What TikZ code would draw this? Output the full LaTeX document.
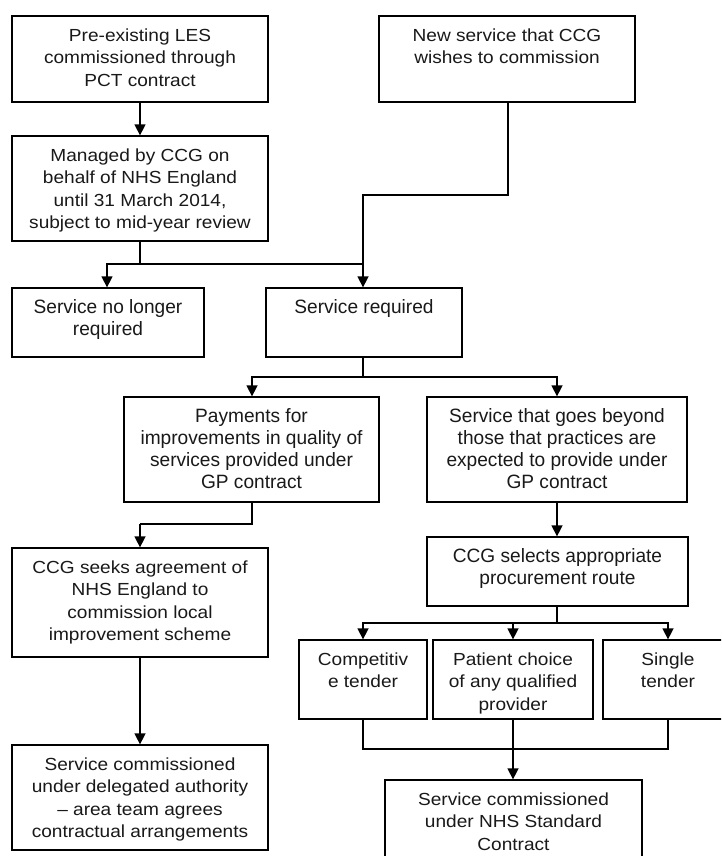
\documentclass[tikz,border=0pt]{standalone}
\usepackage{fontspec}
\setmainfont{Liberation Sans}
\newfontfamily\fa[FakeStretch=1.09]{Liberation Sans}
\newfontfamily\fb[FakeStretch=0.99]{Liberation Sans}
\usetikzlibrary{arrows.meta,fit}
\begin{document}
\begin{tikzpicture}[x=1pt,y=-1pt,
  box/.style={draw=black, line width=1.3pt, inner sep=0pt},
  ta/.style={anchor=north, align=center, inner sep=0pt, yshift=-13pt, font=\fa\fontsize{17.5}{22.4}\selectfont, text=black!90},
  tb/.style={anchor=north, align=center, inner sep=0pt, yshift=-12pt, font=\fb\fontsize{19.3}{22}\selectfont, text=black!90},
  conn/.style={draw=black, line width=1.5pt},
  arr/.style={conn, -{Triangle[width=11pt,length=11pt]}}]
\clip (0,0) rectangle (721,856);
\fill[white] (0,0) rectangle (721,856);
% boxes
\node[box, fit={(12,16) (268,102)}] (A) {};
\node[box, fit={(379,16) (635,102)}] (B) {};
\node[box, fit={(12,136) (268,241)}] (C) {};
\node[box, fit={(12,288) (204,357)}] (D) {};
\node[box, fit={(266,288) (462,357)}] (E) {};
\node[box, fit={(124,397) (379,502)}] (F) {};
\node[box, fit={(427,397) (687,502)}] (G) {};
\node[box, fit={(12,548) (268,657)}] (H) {};
\node[box, fit={(12,745) (268,850)}] (I) {};
\node[box, fit={(427,537) (688,606)}] (J) {};
\node[box, fit={(299,640) (427,719)}] (K) {};
\node[box, fit={(433,640) (593,719)}] (L) {};
\node[box, fit={(603,640) (733,719)}] (M) {};
\node[box, fit={(385,780) (642,880)}] (N) {};
% texts
\node[ta] (tA) at (A.north) {Pre-existing LES\\commissioned through\\PCT contract};
\node[ta] (tB) at (B.north) {New service that CCG\\wishes to commission};
\node[ta] (tC) at (C.north) {Managed by CCG on\\behalf of NHS England\\until 31 March 2014,\\subject to mid-year review};
\node[tb] (tD) at (D.north) {Service no longer\\required};
\node[tb] (tE) at (E.north) {Service required};
\node[tb] (tF) at (F.north) {Payments for\\improvements in quality of\\services provided under\\GP contract};
\node[tb] (tG) at (G.north) {Service that goes beyond\\those that practices are\\expected to provide under\\GP contract};
\node[ta] (tH) at (H.north) {CCG seeks agreement of\\NHS England to\\commission local\\improvement scheme};
\node[ta] (tI) at (I.north) {Service commissioned\\under delegated authority\\– area team agrees\\contractual arrangements};
\node[tb] (tJ) at (J.north) {CCG selects appropriate\\procurement route};
\node[ta] (tK) at (K.north) {Competitiv\\e tender};
\node[ta] (tL) at (L.north) {Patient choice\\of any qualified\\provider};
\node[ta] (tM) at (M.north) {Single\\tender};
\node[ta] (tN) at (N.north) {Service commissioned\\under NHS Standard\\Contract};
% junction coordinates
\coordinate (j1) at (140,264);
\coordinate (j2) at (508,195);
\coordinate (j3) at (363,377);
\coordinate (j4) at (140,524);
\coordinate (j5) at (557,623);
\coordinate (j6) at (513,749);
% connectors
\draw[arr] (A.south -| j1) -- (C.north -| j1);
\draw[conn] (C.south -| j1) -- (j1);
\draw[arr] (j1) -| (D.north -| 107,0);
\draw[arr] (j1) -| (E.north -| 363,0);
\draw[conn] (B.south -| j2) -- (j2) -| (j1 -| 363,0);
\draw[conn] (E.south -| j3) -- (j3);
\draw[arr] (j3) -| (F.north -| 252,0);
\draw[arr] (j3) -| (G.north -| 557,0);
\draw[conn] (F.south -| 252,0) |- (j4);
\draw[arr] (j4) -- (H.north -| j4);
\draw[arr] (H.south -| 140,0) -- (I.north -| 140,0);
\draw[arr] (G.south -| 557,0) -- (J.north -| 557,0);
\draw[conn] (J.south -| j5) -- (j5);
\draw[arr] (j5) -| (K.north -| 363,0);
\draw[arr] (j5) -| (L.north -| 513,0);
\draw[arr] (j5) -| (M.north -| 668,0);
\draw[conn] (K.south -| 363,0) |- (j6);
\draw[conn] (M.south -| 668,0) |- (j6);
\draw[arr] (L.south -| j6) -- (N.north -| j6);
\end{tikzpicture}
\end{document}
